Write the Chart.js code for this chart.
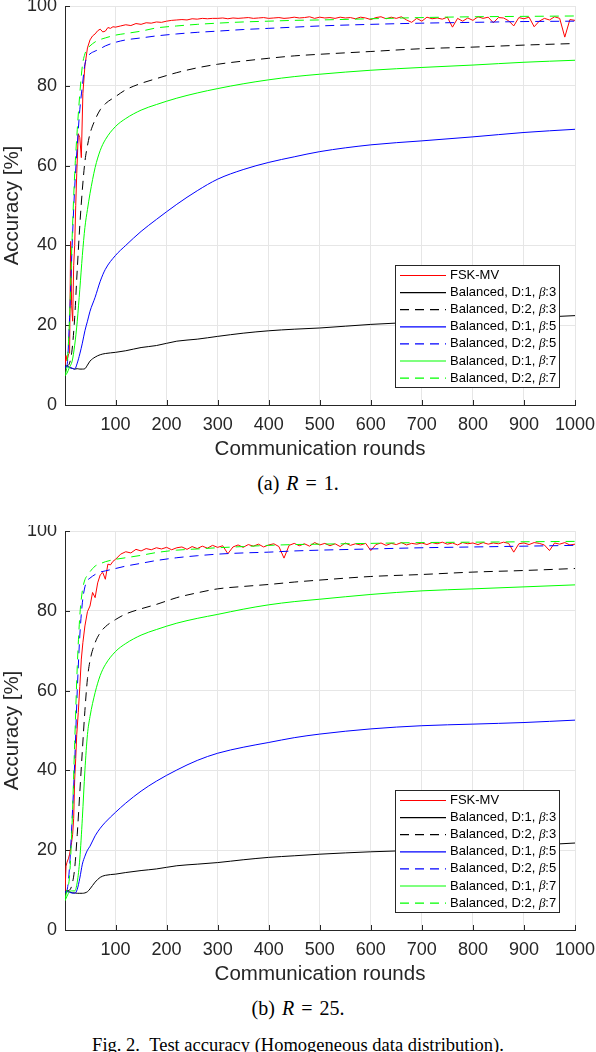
<!DOCTYPE html>
<html>
<head>
<meta charset="utf-8">
<script src="https://cdn.jsdelivr.net/npm/chart.js@4"></script>
<style>
  body { margin: 0; background: #fff; }
  #page { position: relative; width: 596px; height: 1052px; overflow: hidden; }
  canvas { position: absolute; left: 0; }
  .cap { position: absolute; left: 0; width: 596px; text-align: center;
         font-family: 'Liberation Serif', 'Times New Roman', serif; color: #000; }
  .sub { font-size: 20px; line-height: 24px; word-spacing: 2px; }
  .fig { font-size: 18.5px; line-height: 22px; }
</style>
</head>
<body>
<div id="page">
  <canvas id="chartA" width="596" height="465" style="top:0"></canvas>
  <div class="cap sub" style="top:471px">(a) <i>R</i> = 1.</div>
  <canvas id="chartB" width="596" height="465" style="top:525px"></canvas>
  <div class="cap sub" style="top:996px">(b) <i>R</i> = 25.</div>
  <div class="cap fig" style="top:1034px">Fig. 2.&nbsp;&nbsp;Test accuracy (Homogeneous data distribution).</div>
</div>
<script>
// communication rounds where the smooth curves are sampled
const rounds = [1, 5, 10, 15, 20, 25, 30, 35, 40, 45, 50, 60, 70, 80, 100, 120, 150, 180, 220, 260,
  300, 350, 400, 450, 500, 600, 700, 800, 900, 1000];
// FSK-MV is noisy so it gets a denser grid
const fskRounds = [1, 3, 5, 8, 10, 12, 14, 16, 18, 20, 22, 24, 27, 30, 33, 36, 40, 45, 50, 55, 60, 65, 70, 75, 80, 85, 90, 95, 100,
  110, 120, 130, 140, 150, 160, 170, 180, 190, 200,
  210, 220, 230, 240, 250, 260, 270, 280, 290, 300,
  310, 320, 330, 340, 350, 360, 370, 380, 390, 400,
  410, 420, 430, 440, 450, 460, 470, 480, 490, 500,
  510, 520, 530, 540, 550, 560, 570, 580, 590, 600,
  610, 620, 630, 640, 650, 660, 670, 680, 690, 700,
  710, 720, 730, 740, 750, 760, 770, 780, 790, 800,
  810, 820, 830, 840, 850, 860, 870, 880, 890, 900,
  910, 920, 930, 940, 950, 960, 970, 980, 990, 1000];
const xTicks = [100, 200, 300, 400, 500, 600, 700, 800, 900, 1000];
const yTicks = [0, 20, 40, 60, 80, 100];
const names = ['FSK-MV', 'Balanced, D:1, β:3', 'Balanced, D:2, β:3', 'Balanced, D:1, β:5',
  'Balanced, D:2, β:5', 'Balanced, D:1, β:7', 'Balanced, D:2, β:7'];

// (a) R = 1
const fskA = [10, 12.4, 11, 12.8, 13, 41, 25, 21, 35, 40, 50, 58, 68, 67, 62, 78, 85, 89.5, 91.5, 92.5, 93, 93.8, 94.2, 93.5, 93.7, 94.6, 94.4, 94.8, 94.7,
  95.0, 95.3, 95.1, 95.6, 95.4, 95.8, 95.7, 96.0, 95.9, 96.2,
  96.4, 96.5, 96.6, 96.5, 96.8, 96.7, 96.9, 96.8, 96.9, 96.9,
  97.0, 96.8, 97.0, 96.9, 97.0, 97.1, 96.9, 97.0, 97.1, 96.9,
  97.0, 97.1, 96.9, 97.0, 97.2, 97.0, 97.1, 97.3, 96.9, 97.2,
  97.0, 97.1, 96.9, 97.2, 97.0, 97.1, 96.8, 97.2, 97.0, 96.6,
  97.1, 97.3, 96.8, 97.2, 96.9, 97.3, 96.5, 95.9, 96.9, 96.2,
  97.2, 96.8, 97.0, 96.7, 97.2, 94.7, 96.9, 96.2, 97.0, 96.4,
  97.3, 96.9, 97.2, 95.8, 97.1, 97.0, 96.3, 95.0, 97.1, 96.8,
  97.2, 94.8, 96.2, 96.9, 96.5, 97.3, 96.9, 92.2, 96.6, 96.4];
const d1b3A = [9.5, 9.8, 9.4, 9.2, 9.0, 9.1, 9.0, 9.0, 9.1, 10.0, 11.0, 12.0, 12.6, 12.9, 13.2, 13.6, 14.4, 14.9, 16.0, 16.5,
  17.2, 18.0, 18.6, 19.0, 19.3, 20.2, 20.8, 21.3, 21.8, 22.4];
const d2b3A = [9.5, 9.8, 10.5, 14, 22, 34, 45, 54, 61, 65, 68, 71.5, 74, 75.5, 77.3, 79, 80.6, 81.8, 83.3, 84.5,
  85.4, 86.2, 86.9, 87.5, 87.9, 88.6, 89.3, 89.7, 90.2, 90.6];
const d1b5A = [9.5, 9.6, 9.4, 9.2, 9.0, 10.5, 12.8, 15.5, 18.6, 21, 23.5, 27, 31, 34, 37.5, 40, 43.5, 46.5, 50.3, 53.7,
  56.6, 59.0, 60.8, 62.2, 63.5, 65.2, 66.2, 67.2, 68.3, 69.1];
const d2b5A = [9.5, 10, 22, 40, 54.5, 65, 74, 80, 85.4, 87.2, 88, 88.7, 89.3, 90, 90.9, 91.5, 92, 92.5, 93, 93.4,
  93.7, 94.1, 94.4, 94.7, 95, 95.4, 95.7, 95.9, 96.1, 96.2];
const d1b7A = [7.3, 8, 9.5, 11, 15, 21, 29, 37.5, 44.5, 49, 53, 59.5, 63.8, 66.5, 69.8, 71.8, 73.9, 75.3, 76.9, 78.2,
  79.3, 80.5, 81.5, 82.3, 82.9, 83.9, 84.6, 85.2, 85.9, 86.4];
const d2b7A = [7.5, 10, 22, 42, 58, 69, 78, 85, 88, 89.3, 90, 91, 91.6, 92, 92.7, 93.1, 93.7, 94.5, 95, 95.4,
  95.7, 96, 96.2, 96.4, 96.5, 96.8, 97.1, 97.3, 97.4, 97.5];

// (b) R = 25
const fskB = [9.4, 16, 17, 18, 19, 20.5, 22, 24, 28, 37.8, 43, 49, 54.5, 61, 67.9, 72, 76.2, 79.8, 81.2, 84.6, 83.3, 87, 89, 89.6, 87.9, 91.7, 91.5, 92.4, 92.9,
  94.2, 94.8, 94.5, 95.4, 95.0, 95.6, 95.3, 95.8, 95.5, 95.9,
  95.3, 95.8, 96.0, 95.4, 96.1, 95.6, 96.2, 95.7, 96.4, 95.9,
  96.3, 94.3, 96.0, 96.5, 95.9, 96.6, 96.2, 96.7, 96.0, 96.5,
  96.8, 96.1, 93.2, 96.4, 96.9, 96.3, 96.8, 96.2, 97.1, 96.5,
  96.9, 96.3, 96.8, 96.1, 97.0, 96.4, 96.8, 96.5, 96.9, 95.1,
  96.6, 97.0, 96.4, 96.9, 96.6, 97.1, 96.5, 96.9, 96.7, 97.0,
  96.6, 97.1, 96.8, 97.2, 96.7, 97.0, 96.5, 97.1, 96.8, 97.0,
  96.6, 97.1, 96.7, 97.0, 96.8, 97.2, 96.9, 94.7, 96.8, 97.0,
  96.6, 97.1, 96.9, 96.5, 95.1, 97.0, 96.7, 97.1, 96.5, 96.7];
const d1b3B = [9.5, 9.8, 9.6, 9.3, 9.3, 9.2, 9.2, 9.2, 9.3, 9.6, 10.3, 12.0, 13.2, 13.7, 14.0, 14.4, 14.9, 15.3, 16.1, 16.5,
  16.9, 17.6, 18.2, 18.6, 19.0, 19.6, 20.0, 20.5, 21.1, 21.8];
const d2b3B = [9.5, 9.8, 10, 11.5, 15.5, 24, 34.5, 45, 55, 63, 67.5, 72, 74.5, 76, 77.8, 79.2, 80.5, 81.6, 83.3, 84.5,
  85.5, 86.1, 86.6, 87.2, 87.7, 88.6, 89.1, 89.7, 90.1, 90.6];
const d1b5B = [9.5, 9.6, 9.4, 9.3, 9.2, 10.2, 13, 16.5, 18.5, 20, 21, 23.6, 25.5, 27, 29.5, 31.8, 34.8, 37.3, 40.1, 42.5,
  44.3, 45.8, 47, 48.2, 49.1, 50.4, 51.2, 51.6, 52, 52.6];
const d2b5B = [9.5, 10, 16, 28, 42, 60, 73.7, 82, 86, 87.6, 88.2, 89.1, 89.7, 90, 90.6, 91.2, 91.9, 92.6, 93.3, 93.8,
  94.2, 94.5, 94.7, 95, 95.2, 95.5, 95.8, 96, 96.2, 96.4];
const d1b7B = [7.3, 8.5, 9.6, 9.8, 9.8, 12, 17.8, 28, 40, 49, 53.5, 59.5, 63.8, 66.5, 69.8, 71.8, 73.9, 75.3, 76.9, 78.1,
  79.1, 80.4, 81.5, 82.3, 82.9, 84.1, 85, 85.5, 86, 86.5];
const d2b7B = [7.8, 10, 13.6, 27, 47, 66, 78.7, 85, 87.8, 88.9, 89.8, 91.2, 91.8, 92.3, 92.9, 93.3, 93.9, 94.6, 95.2, 95.5,
  95.8, 96.1, 96.4, 96.6, 96.7, 96.9, 97.1, 97.2, 97.3, 97.4];

const lineColors = ['#ff0000', '#000000', '#000000', '#0000ff', '#0000ff', '#00ff00', '#00ff00'];
const dashed = [false, false, true, false, true, false, true];
const axisColor = '#262626';
const sans = "'Liberation Sans', Arial, Helvetica, sans-serif";

function pts(xs, ys) {
  return xs.map((x, i) => ({x: x, y: ys[i]}));
}

// MATLAB look: short inward ticks and a boxed legend in the lower right
const matlabBits = {
  id: 'matlabBits',
  beforeDatasetsDraw(chart) {
    const ctx = chart.ctx, a = chart.chartArea;
    const xs = chart.scales.x, ys = chart.scales.y;
    ctx.save();
    ctx.strokeStyle = axisColor;
    ctx.lineWidth = 1;
    ctx.beginPath();
    ys.ticks.forEach(t => {
      const py = Math.round(ys.getPixelForValue(t.value)) + 0.5;
      ctx.moveTo(a.left, py); ctx.lineTo(a.left + 5, py);
    });
    xs.ticks.forEach(t => {
      const px = Math.round(xs.getPixelForValue(t.value)) + 0.5;
      ctx.moveTo(px, a.bottom); ctx.lineTo(px, a.bottom - 5);
    });
    ctx.stroke();
    ctx.restore();
  },
  afterDraw(chart) {
    const ctx = chart.ctx, a = chart.chartArea;
    const w = 164, h = 122, rowH = 17.1;
    const left = Math.round(a.right - 16 - w), top = Math.round(a.bottom - 18 - h);
    ctx.save();
    ctx.fillStyle = '#fff';
    ctx.fillRect(left, top, w, h);
    ctx.strokeStyle = axisColor;
    ctx.lineWidth = 1;
    ctx.strokeRect(left + 0.5, top + 0.5, w, h);
    ctx.textBaseline = 'middle';
    chart.data.datasets.forEach((ds, i) => {
      const y = top + 10.5 + i * rowH;
      ctx.strokeStyle = lineColors[i];
      ctx.lineWidth = 1.2;
      ctx.setLineDash(dashed[i] ? [9, 6] : []);
      ctx.beginPath();
      ctx.moveTo(left + 5, y); ctx.lineTo(left + 51, y);
      ctx.stroke();
      ctx.setLineDash([]);
      ctx.fillStyle = '#000';
      let tx = left + 55;
      const parts = ds.label.split('β');
      ctx.font = '13px ' + sans;
      ctx.fillText(parts[0], tx, y);
      if (parts.length > 1) {
        tx += ctx.measureText(parts[0]).width;
        ctx.font = "italic 13px 'Liberation Serif', serif";
        ctx.fillText('β', tx, y);
        tx += ctx.measureText('β').width;
        ctx.font = '13px ' + sans;
        ctx.fillText(parts[1], tx, y);
      }
    });
    ctx.restore();
  }
};

function makeChart(id, fsk, curves) {
  const sets = [{
    label: names[0],
    data: pts(fskRounds, fsk)
  }];
  curves.forEach((c, i) => {
    sets.push({label: names[i + 1], data: pts(rounds, c)});
  });
  sets.forEach((ds, i) => {
    ds.borderColor = lineColors[i];
    ds.borderWidth = 1;
    ds.borderDash = dashed[i] ? [9, 6] : [];
    ds.pointRadius = 0;
    ds.fill = false;
    ds.order = sets.length - i;
    ds.cubicInterpolationMode = i === 0 ? 'default' : 'monotone';
    ds.tension = 0;
  });

  return new Chart(document.getElementById(id), {
    type: 'line',
    data: {datasets: sets},
    plugins: [matlabBits],
    options: {
      responsive: false,
      animation: false,
      layout: {padding: {top: 6, right: 21, left: 0, bottom: 0}},
      plugins: {legend: {display: false}, tooltip: {enabled: false}},
      scales: {
        x: {
          type: 'linear',
          min: 1,
          max: 1000,
          afterBuildTicks: s => { s.ticks = xTicks.map(v => ({value: v})); },
          afterFit: s => { s.height = 60; s.paddingLeft = 0; s.paddingRight = 0; },
          grid: {color: '#e6e6e6', drawTicks: false},
          border: {color: axisColor, width: 1},
          ticks: {color: axisColor, padding: 9, maxRotation: 0, callback: v => String(v),
            font: {family: sans, size: 18}},
          title: {display: true, text: 'Communication rounds', color: axisColor,
            padding: {top: 0, bottom: 3}, font: {family: sans, size: 20.5}}
        },
        y: {
          min: 0,
          max: 100,
          afterBuildTicks: s => { s.ticks = yTicks.map(v => ({value: v})); },
          afterFit: s => { s.width = 65; s.paddingTop = 0; s.paddingBottom = 0; },
          grid: {color: '#e6e6e6', drawTicks: false},
          border: {color: axisColor, width: 1},
          ticks: {color: axisColor, padding: 8, callback: v => String(v),
            font: {family: sans, size: 18}},
          title: {display: true, text: 'Accuracy [%]', color: axisColor,
            padding: 0, font: {family: sans, size: 20.5}}
        }
      }
    }
  });
}

makeChart('chartA', fskA, [d1b3A, d2b3A, d1b5A, d2b5A, d1b7A, d2b7A]);
makeChart('chartB', fskB, [d1b3B, d2b3B, d1b5B, d2b5B, d1b7B, d2b7B]);
</script>
</body>
</html>
